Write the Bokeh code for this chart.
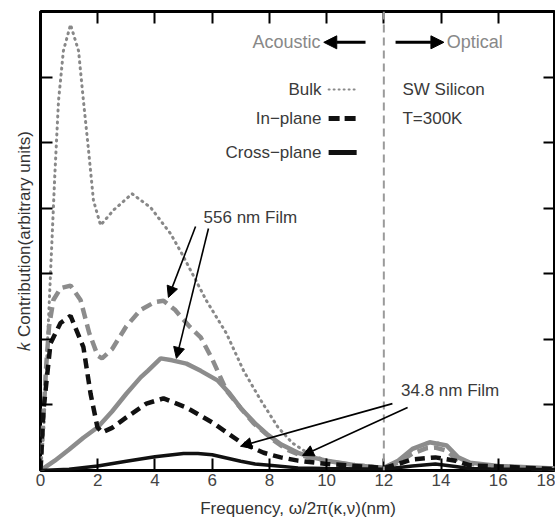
from bokeh.plotting import figure
from bokeh.models import (Range1d, LinearAxis, FixedTicker, Span, Label, Arrow, NormalHead)
from bokeh.embed import file_html
from bokeh.resources import INLINE

# ---------------- data ----------------
bulk_x = [0, 0.1, 0.2, 0.3, 0.4, 0.5, 0.63, 0.8, 1.05, 1.33, 1.5, 1.68, 1.85, 2.1, 2.55,
          3.2, 3.85, 4.55, 4.95, 5.25, 5.8, 6.5, 7.1, 7.7, 8.3, 8.8, 9.5, 10.5, 11.5, 12,
          12.5, 13, 13.5, 13.8, 14.2, 14.6, 15, 16, 17, 18]
bulk_y = [0, 0.5, 1.5, 2.5, 3.5, 4.5, 5.64, 6.4, 6.8, 6.4, 5.64, 4.88, 4.12, 3.74, 3.97,
          4.22, 4.01, 3.61, 3.3, 3.05, 2.59, 2.09, 1.52, 1.07, 0.66, 0.42, 0.22, 0.1, 0.06, 0.05,
          0.15, 0.32, 0.42, 0.43, 0.38, 0.2, 0.12, 0.07, 0.05, 0.03]

inplane556_x = [0, 0.1, 0.2, 0.3, 0.45, 0.7, 1.05, 1.4, 1.7, 2.0, 2.15, 2.5, 3.0, 3.5, 4.0,
                4.3, 4.7, 5.2, 5.6, 6.0, 6.5, 7.0, 7.45, 8.15, 8.6, 9.0, 9.5, 10, 11, 12,
                12.5, 13, 13.5, 13.8, 14.2, 14.6, 15, 16, 17, 18]
inplane556_y = [0, 0.8, 1.6, 2.2, 2.6, 2.78, 2.82, 2.6, 2.1, 1.75, 1.71, 1.85, 2.2, 2.45, 2.57,
                2.59, 2.45, 2.2, 2.03, 1.7, 1.22, 0.95, 0.72, 0.46, 0.32, 0.25, 0.18, 0.14, 0.08, 0.04,
                0.12, 0.26, 0.34, 0.35, 0.3, 0.15, 0.1, 0.06, 0.04, 0.03]

cross556_x = [0, 0.5, 1.0, 1.5, 2.0, 2.5, 3.0, 3.5, 3.75, 4.2, 4.6, 5.1, 5.6, 6.2, 6.6, 7.0,
              7.5, 7.9, 8.4, 9.0, 9.5, 10, 11, 12, 12.5, 13, 13.6, 14.2, 14.6, 15, 16, 17, 18]
cross556_y = [0, 0.15, 0.32, 0.5, 0.66, 0.9, 1.17, 1.42, 1.52, 1.71, 1.68, 1.63, 1.52, 1.37, 1.18, 0.95,
              0.72, 0.56, 0.4, 0.27, 0.2, 0.15, 0.08, 0.04, 0.15, 0.33, 0.43, 0.38, 0.2, 0.12, 0.07, 0.05, 0.03]

inplane348_x = [0, 0.1, 0.35, 0.7, 1.05, 1.5, 1.75, 1.99, 2.15, 2.5, 3.0, 3.7, 4.3, 5.1, 6.05,
                7.0, 7.8, 8.4, 9.0, 10, 11, 12, 12.5, 13, 13.8, 14.5, 15, 16, 17, 18]
inplane348_y = [0, 0.9, 1.94, 2.25, 2.36, 1.88, 1.17, 0.66, 0.58, 0.65, 0.81, 1.02, 1.1, 0.96, 0.72,
                0.43, 0.27, 0.2, 0.15, 0.1, 0.07, 0.04, 0.1, 0.17, 0.2, 0.15, 0.08, 0.06, 0.04, 0.02]

cross348_x = [0, 1, 2, 3, 4, 5, 5.5, 6, 6.5, 7, 7.5, 8, 9, 10, 12, 13, 13.8, 14.5, 15, 16, 18]
cross348_y = [0, 0.02, 0.07, 0.14, 0.21, 0.26, 0.26, 0.24, 0.19, 0.14, 0.1, 0.08, 0.04, 0.03, 0.02,
              0.07, 0.1, 0.06, 0.03, 0.02, 0.01]

x_ticks = [0, 2, 4, 6, 8, 10, 12, 14, 16, 18]
y_ticks = [1, 2, 3, 4, 5, 6]
boundary = 12

GRAY = "#8c8c8c"
BLACK = "#111111"
TXT = "#3a3a3a"
FONT = "Liberation Sans"

p = figure(frame_width=515, frame_height=459, output_backend="svg", toolbar_location=None,
           x_range=Range1d(0, 18), y_range=Range1d(0, 7),
           min_border_left=40, min_border_right=0, min_border_top=11, min_border_bottom=50,
           background_fill_color="white", border_fill_color="white")
p.grid.visible = False
p.outline_line_color = "black"
p.outline_line_width = 3


def tick_only_axis(ax, ticks):
    ax.ticker = FixedTicker(ticks=[], minor_ticks=ticks)
    ax.minor_tick_in = 12
    ax.minor_tick_out = 0
    ax.minor_tick_line_width = 2
    ax.minor_tick_line_color = "black"
    ax.major_tick_in = 0
    ax.major_tick_out = 0
    ax.major_label_standoff = 0
    ax.axis_line_color = None


# bottom axis
xa = p.xaxis[0]
xa.ticker = FixedTicker(ticks=x_ticks)
xa.major_tick_in = 12
xa.major_tick_out = 0
xa.minor_tick_line_color = None
xa.major_tick_line_width = 2
xa.axis_line_color = None
xa.major_label_text_font = FONT
xa.major_label_text_font_size = "17px"
xa.major_label_text_color = "#444444"
xa.major_label_standoff = 3
xa.axis_label = "Frequency, \u03c9/2\u03c0(\u03ba,\u03bd)(nm)"
xa.axis_label_text_font = FONT
xa.axis_label_text_font_style = "normal"
xa.axis_label_text_font_size = "17px"
xa.axis_label_text_color = "#333333"
xa.axis_label_standoff = 10

ya = p.yaxis[0]
tick_only_axis(ya, y_ticks)
ya.axis_label = "\U0001D458 Contribution(arbitrary units)"
ya.axis_label_text_font = FONT
ya.axis_label_text_font_style = "normal"
ya.axis_label_text_font_size = "17px"
ya.axis_label_text_color = "#333333"
ya.axis_label_standoff = 7

top = LinearAxis()
tick_only_axis(top, x_ticks)
right = LinearAxis()
tick_only_axis(right, y_ticks)
p.add_layout(top, "above")
p.add_layout(right, "right")

# boundary
p.add_layout(Span(location=boundary, dimension="height", line_color="#9a9a9a",
                  line_width=2, line_dash="8 5"))

# curves
p.line(bulk_x, bulk_y, line_color="#888888", line_width=3, line_dash="1 5", line_cap="round")
p.line(inplane556_x, inplane556_y, line_color=GRAY, line_width=4.5, line_dash="11 6")
p.line(cross556_x, cross556_y, line_color=GRAY, line_width=4.5)
p.line(inplane348_x, inplane348_y, line_color=BLACK, line_width=4.5, line_dash="10 6")
p.line(cross348_x, cross348_y, line_color=BLACK, line_width=3.5)

# legend (label then sample, as in the original)
leg_y = [5.81, 5.37, 4.85]
leg_names = ["Bulk", "In\u2212plane", "Cross\u2212plane"]
for name, yy in zip(leg_names, leg_y):
    p.add_layout(Label(x=9.82, y=yy, text=name, text_align="right", text_baseline="middle",
                       text_font=FONT, text_font_size="17px", text_color=TXT))
p.line([10.07, 11.0], [leg_y[0], leg_y[0]], line_color="#8a8a8a", line_width=2,
       line_dash="1 4", line_cap="round")
p.line([10.07, 11.05], [leg_y[1], leg_y[1]], line_color=BLACK, line_width=5, line_dash="11 5")
p.line([10.07, 11.05], [leg_y[2], leg_y[2]], line_color=BLACK, line_width=5)

p.add_layout(Label(x=12.65, y=leg_y[0], text="SW Silicon", text_baseline="middle",
                   text_font=FONT, text_font_size="17px", text_color=TXT))
p.add_layout(Label(x=12.65, y=leg_y[1], text="T=300K", text_baseline="middle",
                   text_font=FONT, text_font_size="17px", text_color=TXT))

# acoustic / optical
p.add_layout(Label(x=9.79, y=6.53, text="Acoustic", text_align="right", text_baseline="middle",
                   text_font=FONT, text_font_size="18px", text_color="#888888"))
p.add_layout(Label(x=14.2, y=6.53, text="Optical", text_baseline="middle",
                   text_font=FONT, text_font_size="18px", text_color="#888888"))
p.add_layout(Arrow(x_start=11.36, y_start=6.53, x_end=9.9, y_end=6.53, line_width=3,
                   line_color="black",
                   end=NormalHead(size=13, fill_color="black", line_color="black")))
p.add_layout(Arrow(x_start=12.41, y_start=6.53, x_end=14.1, y_end=6.53, line_width=3,
                   line_color="black",
                   end=NormalHead(size=13, fill_color="black", line_color="black")))

# annotations
p.add_layout(Label(x=5.7, y=3.86, text="556 nm Film", text_baseline="middle",
                   text_font=FONT, text_font_size="17px", text_color=TXT))
p.add_layout(Label(x=12.6, y=1.22, text="34.8 nm Film", text_baseline="middle",
                   text_font=FONT, text_font_size="17px", text_color=TXT))
arrows = [(5.42, 3.72, 4.47, 2.64), (5.87, 3.69, 4.75, 1.71),
          (12.3, 1.02, 6.99, 0.37), (12.83, 0.96, 9.16, 0.23)]
for xs, ys, xe, ye in arrows:
    p.add_layout(Arrow(x_start=xs, y_start=ys, x_end=xe, y_end=ye, line_width=1.6,
                       line_color="black",
                       end=NormalHead(size=11, fill_color="black", line_color="black")))

open("out.html", "w").write(file_html(p, INLINE))
